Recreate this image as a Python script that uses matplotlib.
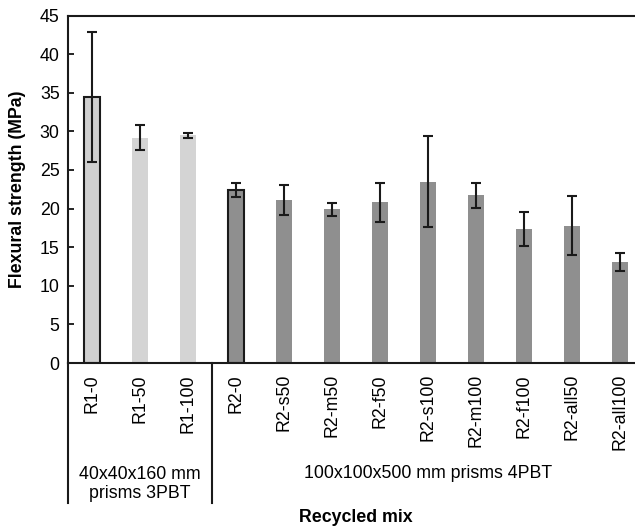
import matplotlib
matplotlib.use("Agg")
import matplotlib.pyplot as plt

categories = ["R1-0", "R1-50", "R1-100", "R2-0", "R2-s50", "R2-m50", "R2-f50",
              "R2-s100", "R2-m100", "R2-f100", "R2-all50", "R2-all100"]
values = [34.4, 29.2, 29.5, 22.4, 21.1, 19.9, 20.8, 23.5, 21.7, 17.4, 17.8, 13.1]
errors = [8.4, 1.65, 0.3, 0.9, 1.9, 0.8, 2.55, 5.85, 1.65, 2.2, 3.8, 1.2]
colors = ["#cfcfcf", "#d4d4d4", "#d4d4d4"] + ["#8f8f8f"] * 9
edged = [True, False, False, True] + [False] * 8
group_labels = ["40x40x160 mm\nprisms 3PBT", "100x100x500 mm prisms 4PBT"]
y_ticks = [0, 5, 10, 15, 20, 25, 30, 35, 40, 45]

plt.rcParams['font.family'] = ['Liberation Sans', 'DejaVu Sans']
FS = 12.8

fig = plt.figure(figsize=(6.35, 5.3), dpi=100)
W, H = 635, 530
left, right, top, bottom = 68, 644, 15.5, 363
ax = fig.add_axes([left / W, 1 - bottom / H, (right - left) / W, (bottom - top) / H])

x = list(range(len(categories)))
for i in x:
    ax.bar(i, values[i], width=0.32, color=colors[i],
           edgecolor="#1a1a1a" if edged[i] else "none",
           linewidth=1.5 if edged[i] else 0, zorder=2)
ax.errorbar(x, values, yerr=errors, fmt="none", ecolor="#1a1a1a",
            elinewidth=1.5, capsize=3.6, capthick=1.5, zorder=3)

ax.set_xlim(-0.5, len(categories) - 0.5)
ax.set_ylim(0, 45)
ax.set_yticks(y_ticks)
ax.tick_params(axis="y", direction="in", length=4, width=1.2, labelsize=FS, pad=6)
ax.set_xticks(x)
ax.set_xticklabels(categories, rotation=90, fontsize=FS)
ax.tick_params(axis="x", length=0, pad=8)
for s in ["left", "top", "bottom"]:
    ax.spines[s].set_linewidth(1.5)
    ax.spines[s].set_color("#1a1a1a")
ax.spines["right"].set_visible(False)

ax.set_ylabel("Flexural strength (MPa)", fontsize=FS, fontweight="bold", labelpad=10)

# group separators below axis
trans = ax.get_xaxis_transform()
h = bottom - top
yb = -(503 - bottom) / h
for xs in [-0.5, 2.5]:
    ax.plot([xs, xs], [0, yb], transform=trans, color="#1a1a1a", lw=1.5, clip_on=False)

ax.text(1, -(484 - bottom) / h, group_labels[0], transform=trans,
        ha="center", va="center", fontsize=FS, linespacing=1.1)
ax.text(7, -(474 - bottom) / h, group_labels[1], transform=trans,
        ha="center", va="center", fontsize=FS)

fig.text(356 / W, 1 - 518 / H, "Recycled mix", ha="center", va="center",
         fontsize=FS, fontweight="bold")

fig.savefig("out.png", dpi=100)
